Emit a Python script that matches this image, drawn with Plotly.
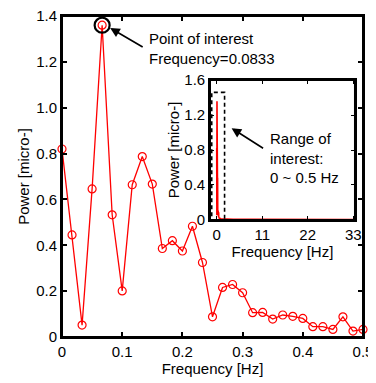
import plotly.graph_objects as go

# Main spectrum (0 - 0.5 Hz), step 1/60 Hz
freq = [k / 60 for k in range(31)]
power = [0.82, 0.445, 0.052, 0.646, 1.36, 0.533, 0.201, 0.664, 0.787, 0.667,
         0.386, 0.42, 0.375, 0.483, 0.325, 0.088, 0.216, 0.229, 0.193, 0.106,
         0.107, 0.078, 0.096, 0.09, 0.081, 0.045, 0.045, 0.033, 0.088, 0.026, 0.033]

# High-frequency tail for the inset (0.5 - 33 Hz)
tail_freq = [0.6, 1, 2, 4, 8, 12, 16, 20, 24, 28, 33]
tail_power = [0.02, 0.012, 0.008, 0.006, 0.005, 0.005, 0.004, 0.004, 0.004, 0.004, 0.004]

peak_idx = 4
main_xticks = [0, 0.1, 0.2, 0.3, 0.4, 0.5]
main_xlabels = ["0", "0.1", "0.2", "0.3", "0.4", "0.5"]
main_yticks = [0, 0.2, 0.4, 0.6, 0.8, 1.0, 1.2, 1.4]
main_ylabels = ["0", "0.2", "0.4", "0.6", "0.8", "1.0", "1.2", "1.4"]
inset_xticks = [0, 11, 22, 33]
inset_yticks = [0, 0.4, 0.8, 1.2, 1.6]
inset_ylabels = ["0", "0.4", "0.8", "1.2", "1.6"]

FONT = "Liberation Sans, Arial, sans-serif"
FS = 15
RED = "rgb(255,0,0)"

fig = go.Figure()
fig.add_trace(go.Scatter(
    x=freq, y=power, mode="lines+markers",
    line=dict(color=RED, width=1.3),
    marker=dict(symbol="circle-open", size=8, color=RED, line=dict(width=1.2)),
    xaxis="x", yaxis="y", showlegend=False, cliponaxis=False))
fig.add_trace(go.Scatter(
    x=[freq[peak_idx]], y=[power[peak_idx]], mode="markers",
    marker=dict(symbol="circle-open", size=15, color="black", line=dict(width=2.2)),
    xaxis="x", yaxis="y", showlegend=False, cliponaxis=False))

# Inset
fig.add_trace(go.Scatter(
    x=freq + tail_freq, y=power + tail_power, mode="lines",
    line=dict(color=RED, width=1.6),
    xaxis="x2", yaxis="y2", showlegend=False))

axis_common = dict(showgrid=False, zeroline=False, showline=True, linecolor="black",
                   ticks="inside", mirror="ticks", tickcolor="black",
                   ticklabeloverflow="allow",
                   tickfont=dict(family=FONT, size=FS, color="black"))

fig.update_layout(
    width=368, height=375,
    margin=dict(l=54, r=13, t=8, b=46),
    paper_bgcolor="white", plot_bgcolor="white",
    font=dict(family=FONT, size=FS, color="black"),
    xaxis=dict(**axis_common, range=[0, 0.5], tickvals=main_xticks, ticktext=main_xlabels,
               linewidth=2, ticklen=5, tickwidth=1.5,
               title=dict(text="Frequency [Hz]", standoff=3, font=dict(size=FS)),
               automargin=False),
    yaxis=dict(**axis_common, range=[0, 1.4], tickvals=main_yticks, ticktext=main_ylabels,
               linewidth=2, ticklen=5, tickwidth=1.5,
               title=dict(text="Power [micro-]", standoff=3, font=dict(size=FS)),
               automargin=False),
    xaxis2=dict(**axis_common, domain=[0.492, 0.973], anchor="y2", range=[-1.6, 33.4],
                tickvals=inset_xticks, linewidth=1.8, ticklen=4, tickwidth=1.3,
                title=dict(text="Frequency [Hz]", standoff=0, font=dict(size=FS)),
                automargin=False),
    yaxis2=dict(**axis_common, domain=[0.365, 0.80], anchor="x2", range=[0, 1.6],
                tickvals=inset_yticks, ticktext=inset_ylabels,
                linewidth=1.8, ticklen=4, tickwidth=1.3,
                title=dict(text="Power [micro-]", standoff=1, font=dict(size=FS)),
                automargin=False),
    shapes=[
        dict(type="rect", xref="x domain", yref="y domain", x0=0, x1=1, y0=0, y1=1,
             line=dict(color="black", width=2)),
        dict(type="rect", xref="x2 domain", yref="y2 domain", x0=0, x1=1, y0=0, y1=1,
             line=dict(color="black", width=1.8)),
        dict(type="rect", xref="x2", yref="y2", x0=-1.2, x1=1.9, y0=0, y1=1.46,
             line=dict(color="black", width=1.6, dash="4px,3px")),
    ],
    annotations=[
        dict(x=0.08, y=1.348, xref="x", yref="y", text="", showarrow=True,
             ax=34, ay=20, arrowhead=2, arrowsize=1.2, arrowwidth=1.6, arrowcolor="black"),
        dict(x=0.1417, y=1.26, xref="x", yref="y", text="Point of interest<br>Frequency=0.0833",
             showarrow=False, xanchor="left", yanchor="middle", align="left",
             font=dict(family=FONT, size=FS, color="black")),
        dict(x=3.6, y=1.05, xref="x2", yref="y2", text="", showarrow=True,
             ax=33, ay=21, arrowhead=2, arrowsize=1.2, arrowwidth=1.6, arrowcolor="black"),
        dict(x=12.4, y=0.71, xref="x2", yref="y2", text="Range of<br>interest:<br>0 ~ 0.5 Hz",
             showarrow=False, xanchor="left", yanchor="middle", align="left",
             font=dict(family=FONT, size=FS, color="black")),
    ],
)

fig.write_html("out.html")
